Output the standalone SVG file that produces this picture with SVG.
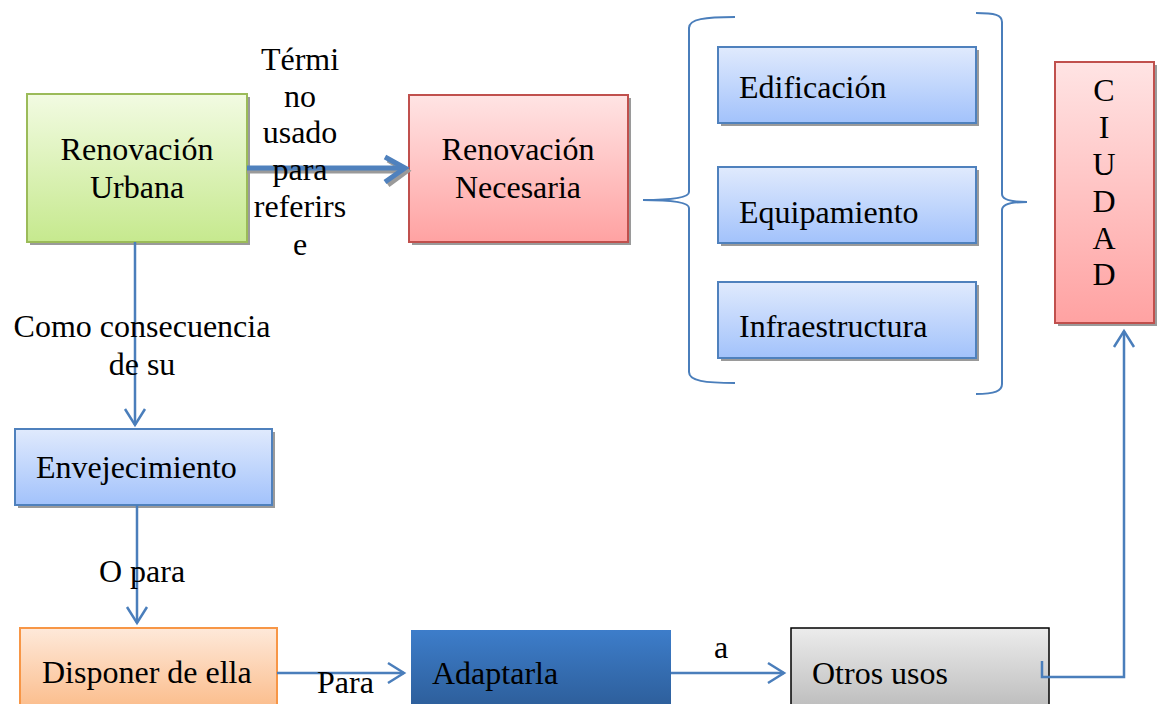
<svg xmlns="http://www.w3.org/2000/svg" width="1159" height="704" viewBox="0 0 1159 704">
<defs>
<linearGradient id="gGreen" x1="0" y1="0" x2="0" y2="1"><stop offset="0" stop-color="#f2fbe2"/><stop offset="1" stop-color="#c6e98e"/></linearGradient>
<linearGradient id="gRed" x1="0" y1="0" x2="0" y2="1"><stop offset="0" stop-color="#ffe4e4"/><stop offset="1" stop-color="#ffa2a2"/></linearGradient>
<linearGradient id="gBlue" x1="0" y1="0" x2="0" y2="1"><stop offset="0" stop-color="#e0eafd"/><stop offset="1" stop-color="#a2c2fb"/></linearGradient>
<linearGradient id="gOrange" x1="0" y1="0" x2="0" y2="1"><stop offset="0" stop-color="#fee9da"/><stop offset="1" stop-color="#fbbd8c"/></linearGradient>
<linearGradient id="gGray" x1="0" y1="0" x2="0" y2="1"><stop offset="0" stop-color="#ececec"/><stop offset="1" stop-color="#bdbdbd"/></linearGradient>
<linearGradient id="gDark" x1="0" y1="0" x2="0" y2="1"><stop offset="0" stop-color="#3d7dca"/><stop offset="1" stop-color="#2d5e9a"/></linearGradient>
</defs>
<style>
text{font-family:"Liberation Serif","Times New Roman",serif;font-size:32px;fill:#000}
.c{text-anchor:middle}
.sh{fill:#9a9a9a}
.ln{fill:none;stroke:#4a7ebb;stroke-width:2.5}
.hd{fill:none;stroke:#4a7ebb;stroke-width:2.5;stroke-linejoin:miter}
.br{fill:none;stroke:#4a7ebb;stroke-width:2}
</style>

<g id="renovacion-urbana">
<rect class="sh" x="30" y="97" width="220" height="148"/>
<rect x="27" y="94" width="220" height="148" fill="url(#gGreen)" stroke="#9bbb59" stroke-width="2"/>
<text class="c" x="137" y="160">Renovación</text>
<text class="c" x="137" y="198">Urbana</text>
</g>

<g id="renovacion-necesaria">
<rect class="sh" x="412" y="98" width="219" height="147"/>
<rect x="409" y="95" width="219" height="147" fill="url(#gRed)" stroke="#c0504d" stroke-width="2"/>
<text class="c" x="518" y="160">Renovación</text>
<text class="c" x="518" y="198">Necesaria</text>
</g>

<g id="edificacion">
<rect class="sh" x="721" y="50" width="258" height="76"/>
<rect x="718" y="47" width="258" height="76" fill="url(#gBlue)" stroke="#4f81bd" stroke-width="2"/>
<text x="739" y="98">Edificación</text>
</g>

<g id="equipamiento">
<rect class="sh" x="721" y="170" width="258" height="76"/>
<rect x="718" y="167" width="258" height="76" fill="url(#gBlue)" stroke="#4f81bd" stroke-width="2"/>
<text x="739" y="223">Equipamiento</text>
</g>

<g id="infraestructura">
<rect class="sh" x="721" y="285" width="258" height="76"/>
<rect x="718" y="282" width="258" height="76" fill="url(#gBlue)" stroke="#4f81bd" stroke-width="2"/>
<text x="739" y="337">Infraestructura</text>
</g>

<g id="ciudad">
<rect class="sh" x="1058" y="65" width="99" height="261"/>
<rect x="1055" y="62" width="99" height="261" fill="url(#gRed)" stroke="#c0504d" stroke-width="2"/>
<text class="c" x="1104" y="101">C</text>
<text class="c" x="1104" y="138">I</text>
<text class="c" x="1104" y="175">U</text>
<text class="c" x="1104" y="212">D</text>
<text class="c" x="1104" y="249">A</text>
<text class="c" x="1104" y="285">D</text>
</g>

<g id="envejecimiento">
<rect class="sh" x="18" y="432" width="257" height="76"/>
<rect x="15" y="429" width="257" height="76" fill="url(#gBlue)" stroke="#4f81bd" stroke-width="2"/>
<text x="36" y="478">Envejecimiento</text>
</g>

<g id="disponer">
<rect x="20" y="628" width="257" height="80" fill="url(#gOrange)" stroke="#f79646" stroke-width="2"/>
<text x="42" y="683">Disponer de ella</text>
</g>

<g id="adaptarla">
<rect x="411" y="630" width="260" height="78" fill="url(#gDark)"/>
<text x="432" y="684">Adaptarla</text>
</g>

<g id="otros-usos">
<rect x="791" y="628" width="258" height="80" fill="url(#gGray)" stroke="#000" stroke-width="1.5"/>
<text x="812" y="684">Otros usos</text>
</g>

<g id="connectors">
<path d="M247 171 H405" fill="none" stroke="#9a9a9a" stroke-width="5"/>
<path d="M388 160 L407 171 L388 185" fill="none" stroke="#9a9a9a" stroke-width="5"/>
<path d="M247 168 H404" fill="none" stroke="#4f81bd" stroke-width="5"/>
<path d="M385 157 L405 168 L385 182" fill="none" stroke="#4f81bd" stroke-width="5"/>
<path class="ln" d="M135 242 V425"/>
<path class="hd" d="M125 409 L135 425 L145 409"/>
<path class="ln" d="M137 505 V623"/>
<path class="hd" d="M127 607 L137 623 L147 607"/>
<path class="ln" d="M277 673 H404"/>
<path class="hd" d="M388 663 L404 673 L388 683"/>
<path class="ln" d="M671 673 H784"/>
<path class="hd" d="M768 663 L784 673 L768 683"/>
<path class="ln" d="M1042 661 V677 H1124 V331"/>
<path class="hd" d="M1114 347 L1124 331 L1134 347"/>
<path class="br" d="M735 17 C705 17 689 19 689 28 V192 C689 198 670 200 643 200 C670 200 689 202 689 208 V372 C689 381 705 383 735 383"/>
<path class="br" d="M976 13 C995 13 1002 15 1002 22 V194 C1002 199 1010 202 1027 202 C1010 202 1002 205 1002 210 V384 C1002 391 995 394 976 394"/>
</g>

<g id="labels">
<text class="c" x="300" y="70">Térmi</text>
<text class="c" x="300" y="107">no</text>
<text class="c" x="300" y="143">usado</text>
<text class="c" x="300" y="180">para</text>
<text class="c" x="300" y="217">referirs</text>
<text class="c" x="300" y="255">e</text>
<text class="c" x="142" y="337">Como consecuencia</text>
<text class="c" x="142" y="375">de su</text>
<text class="c" x="142" y="582">O para</text>
<text x="317" y="693">Para</text>
<text class="c" x="721" y="658">a</text>
</g>
</svg>
